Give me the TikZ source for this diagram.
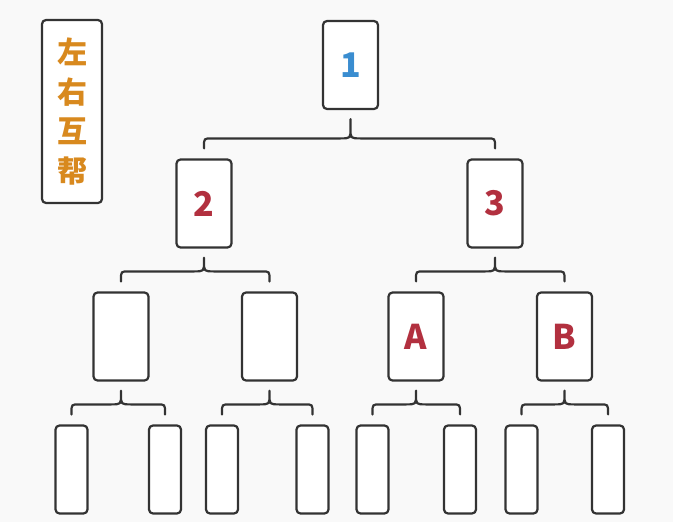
\documentclass[tikz,border=0pt]{standalone}
\usepackage{fontspec}
\setmainfont{Noto Sans CJK SC}
\newfontfamily\cjkfont{Noto Sans CJK SC}
\usetikzlibrary{calc}

\definecolor{bggray}{HTML}{F9F9F9}
\definecolor{linegray}{HTML}{333333}
\definecolor{numblue}{HTML}{3A8DD0}
\definecolor{numred}{HTML}{B2303F}
\definecolor{labelorange}{HTML}{D8891E}

\begin{document}
\begin{tikzpicture}[x=1pt,y=-1pt,
  box/.style={draw=linegray,line width=2.2pt,rounded corners=4pt,fill=white,minimum width=55pt,minimum height=88pt,inner sep=0pt,text=numred,font=\cjkfont\bfseries\fontsize{34}{34}\selectfont},
  leaf/.style={box,minimum width=32pt},
  side/.style={box,minimum width=60pt,minimum height=183pt,align=center,text=labelorange,font=\cjkfont\bfseries\fontsize{30}{39.6}\selectfont},
  brace/.style={draw=linegray,line width=2.2pt,line cap=round,line join=round}]
\fill[bggray] (0,0) rectangle (673,522);
\node[side] (title) at (72,111.5) {左\\右\\互\\帮};
\node[box,text=numblue] (one) at (350.5,65) {1};
\node[box] (two) at (204,203.5) {2};
\node[box] (three) at (495,203.5) {3};
\node[box] (c1) at (121,336.5) {};
\node[box] (c2) at (269.5,336.5) {};
\node[box] (a) at (416,336.5) {A};
\node[box] (b) at (564.5,336.5) {B};
\node[leaf] (d1) at (71.5,469.5) {};
\node[leaf] (d2) at (165,469.5) {};
\node[leaf] (d3) at (222,469.5) {};
\node[leaf] (d4) at (312.5,469.5) {};
\node[leaf] (d5) at (372.5,469.5) {};
\node[leaf] (d6) at (460,469.5) {};
\node[leaf] (d7) at (521.5,469.5) {};
\node[leaf] (d8) at (608,469.5) {};
% braces from each parent to its two children
\foreach \mom/\kidl/\kidr in {one/two/three,two/c1/c2,three/a/b,c1/d1/d2,c2/d3/d4,a/d5/d6,b/d7/d8}{
  \draw[brace] let \p1=(\mom.south),\p2=(\kidl.north),\p3=(\kidr.north) in
    (\x2,\y2+10pt) -- (\x2,\y2+12pt) .. controls (\x2,\y2+20pt) .. (\x2+8pt,\y2+20pt)
      -- (\x1-10pt,\y2+20pt) .. controls (\x1,\y2+20pt) .. (\x1,\y2+30pt) -- (\x1,\y1-9pt)
    (\x1,\y1-9pt) -- (\x1,\y2+30pt) .. controls (\x1,\y2+20pt) .. (\x1+10pt,\y2+20pt)
      -- (\x3-8pt,\y2+20pt) .. controls (\x3,\y2+20pt) .. (\x3,\y2+12pt) -- (\x3,\y2+10pt);
}
\end{tikzpicture}
\end{document}
